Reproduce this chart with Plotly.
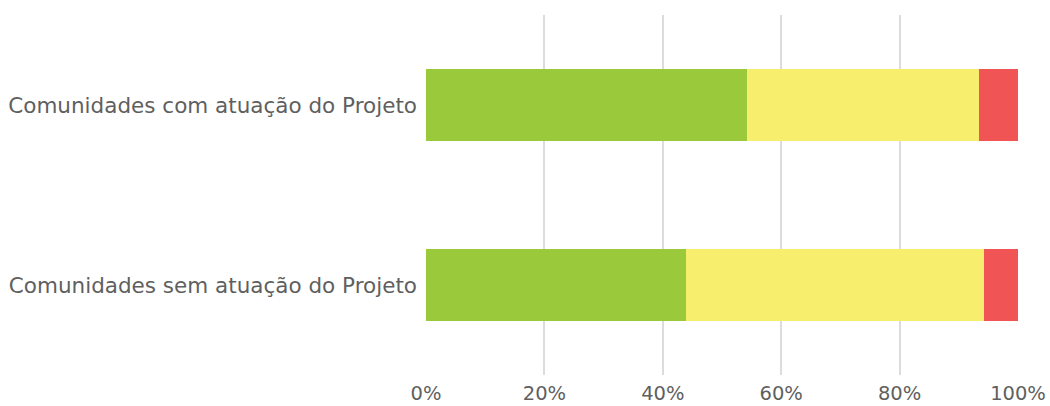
import plotly.graph_objects as go

categories = ["Comunidades sem atuação do Projeto", "Comunidades com atuação do Projeto"]
series_names = ["Verde", "Amarelo", "Vermelho"]
green_vals = [43.9, 54.3]
yellow_vals = [50.3, 39.1]
red_vals = [5.8, 6.6]
x_ticks = [0, 20, 40, 60, 80, 100]
x_tick_labels = ["0%", "20%", "40%", "60%", "80%", "100%"]

colors = ["#9ACA3C", "#F8EE6D", "#F05454"]

fig = go.Figure()
for name, vals, col in zip(series_names, [green_vals, yellow_vals, red_vals], colors):
    fig.add_trace(go.Bar(
        y=categories, x=vals, name=name, orientation="h",
        marker=dict(color=col, line=dict(width=0)),
        width=0.395,
    ))

fig.update_layout(
    barmode="stack",
    width=1050, height=406,
    margin=dict(l=426, r=32, t=15, b=31),
    plot_bgcolor="white", paper_bgcolor="white",
    showlegend=False,
    font=dict(family="DejaVu Sans, Liberation Sans, Arial, sans-serif", size=20, color="#5f5f5f"),
)
fig.update_xaxes(
    range=[0, 100], tickvals=x_ticks, ticktext=x_tick_labels,
    tickfont=dict(family="DejaVu Sans, sans-serif", size=19.5, color="#5f5f5f"),
    showgrid=True, gridcolor="#dcdcdc", gridwidth=1.5,
    zeroline=False, showline=False, ticks="", ticklabelstandoff=4,
    automargin=False,
)
fig.update_yaxes(
    range=[-0.5, 1.5], showgrid=False, zeroline=False, showline=False,
    tickfont=dict(family="DejaVu Sans, sans-serif", size=21.5, color="#5f5f5f"),
    ticks="", ticklabelstandoff=8, automargin=False,
)

fig.write_html("out.html")
